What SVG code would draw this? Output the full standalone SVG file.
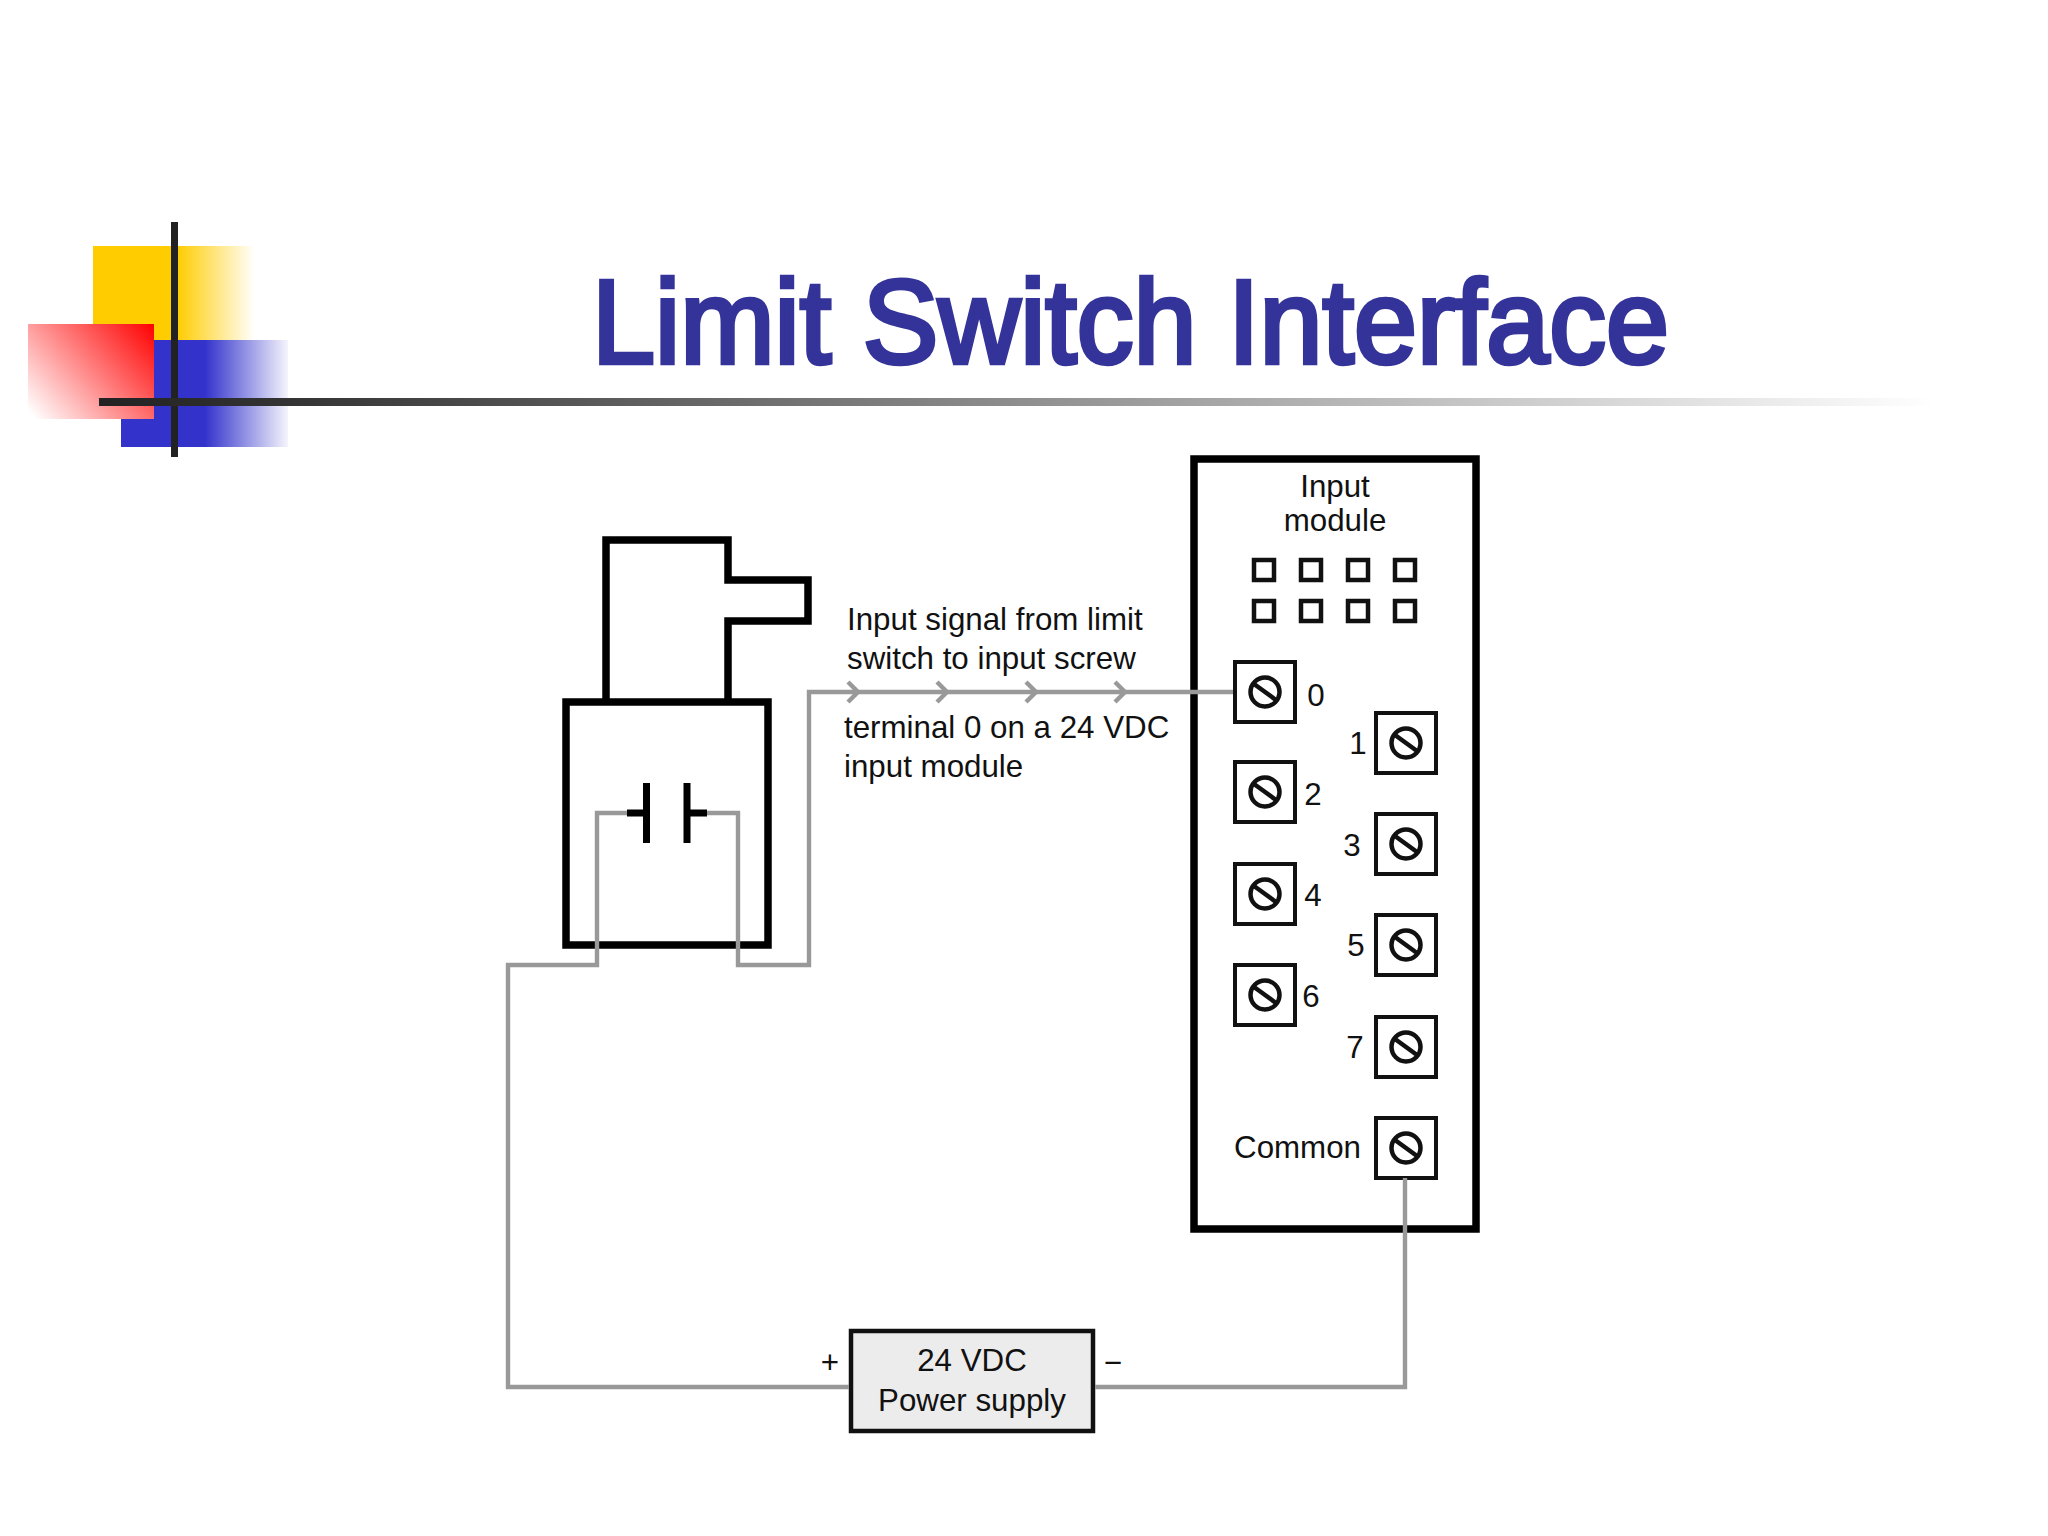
<svg xmlns="http://www.w3.org/2000/svg" xmlns:xlink="http://www.w3.org/1999/xlink" width="2048" height="1536" viewBox="0 0 2048 1536">
<style>
text{font-family:"Liberation Sans",Arial,sans-serif;font-size:31.3px;fill:#111}
.k{fill:none;stroke:#000;stroke-width:7.5;stroke-linejoin:miter}
.w{fill:none;stroke:#999;stroke-width:4.4}
.led{fill:#fff;stroke:#111;stroke-width:4.5}
.box{fill:#fff;stroke:#111;stroke-width:4}
.disc{fill:none;stroke:#111;stroke-width:4.5}
.m{text-anchor:middle}
</style>
<defs>
<linearGradient id="gy" gradientUnits="userSpaceOnUse" x1="177" y1="0" x2="255" y2="0"><stop offset="0" stop-color="#fc0"/><stop offset="1" stop-color="#fc0" stop-opacity="0"/></linearGradient>
<linearGradient id="gb" gradientUnits="userSpaceOnUse" x1="205" y1="0" x2="288" y2="0"><stop offset="0" stop-color="#33c"/><stop offset="1" stop-color="#33c" stop-opacity="0.05"/></linearGradient>
<linearGradient id="gr" gradientUnits="userSpaceOnUse" x1="154" y1="324" x2="40" y2="425"><stop offset="0" stop-color="#f00"/><stop offset="1" stop-color="#f00" stop-opacity="0"/></linearGradient>
<linearGradient id="gl" gradientUnits="userSpaceOnUse" x1="99" y1="0" x2="1935" y2="0"><stop offset="0" stop-color="#222"/><stop offset="0.1" stop-color="#333"/><stop offset="1" stop-color="#fff"/></linearGradient>
<g id="term"><rect class="box" x="-30" y="-30" width="60" height="60"/><circle class="disc" r="14.5"/><line class="disc" x1="-11" y1="-8" x2="11" y2="8"/></g>
<path id="chev" class="w" d="M-5,-10 L5,0 L-5,10"/>
</defs>
<rect width="2048" height="1536" fill="#fff"/>
<g id="logo">
<rect x="93" y="246" width="84" height="94" fill="#fc0"/>
<rect x="177" y="246" width="79" height="94" fill="url(#gy)"/>
<rect x="121" y="340" width="84" height="107" fill="#33c"/>
<rect x="205" y="340" width="83" height="107" fill="url(#gb)"/>
<rect x="28" y="324" width="126" height="95" fill="#fff"/>
<rect x="28" y="324" width="126" height="95" fill="url(#gr)"/>
<rect x="171" y="222" width="7" height="235" fill="#222"/>
<rect x="99" y="398" width="1836" height="8" fill="url(#gl)"/>
</g>
<text id="title" x="592" y="363" textLength="1077" lengthAdjust="spacingAndGlyphs" style="font-size:118px;fill:#333399;stroke:#333399;stroke-width:4.500">Limit Switch Interface</text>
<g id="limit-switch">
<path class="k" d="M606,702 V540 H728 V580 H808 V621 H728 V702"/>
<rect class="k" x="566" y="702" width="202" height="243"/>
<path d="M646.500,783 V843 M687,783 V843 M627,813 H646 M687,813 H707" fill="none" stroke="#000" stroke-width="7"/>
</g>
<g id="input-module">
<rect class="k" x="1194" y="459" width="282" height="770"/>
<text x="1335" y="497" class="m">Input</text>
<text x="1335" y="531" class="m">module</text>
<rect class="led" x="1254" y="560" width="20" height="20"/><rect class="led" x="1301" y="560" width="20" height="20"/><rect class="led" x="1348" y="560" width="20" height="20"/><rect class="led" x="1395" y="560" width="20" height="20"/>
<rect class="led" x="1254" y="601" width="20" height="20"/><rect class="led" x="1301" y="601" width="20" height="20"/><rect class="led" x="1348" y="601" width="20" height="20"/><rect class="led" x="1395" y="601" width="20" height="20"/>
<g id="terminal-0"><use xlink:href="#term" href="#term" x="1265" y="692"/><text x="1316" y="706" class="m">0</text></g>
<g id="terminal-2"><use xlink:href="#term" href="#term" x="1265" y="792"/><text x="1313" y="805" class="m">2</text></g>
<g id="terminal-4"><use xlink:href="#term" href="#term" x="1265" y="894"/><text x="1313" y="906" class="m">4</text></g>
<g id="terminal-6"><use xlink:href="#term" href="#term" x="1265" y="995"/><text x="1311" y="1007" class="m">6</text></g>
<g id="terminal-1"><use xlink:href="#term" href="#term" x="1406" y="743"/><text x="1358" y="754" class="m">1</text></g>
<g id="terminal-3"><use xlink:href="#term" href="#term" x="1406" y="844"/><text x="1352" y="856" class="m">3</text></g>
<g id="terminal-5"><use xlink:href="#term" href="#term" x="1406" y="945"/><text x="1356" y="956" class="m">5</text></g>
<g id="terminal-7"><use xlink:href="#term" href="#term" x="1406" y="1047"/><text x="1355" y="1058" class="m">7</text></g>
<g id="terminal-common"><use xlink:href="#term" href="#term" x="1406" y="1148"/><text x="1361" y="1158" text-anchor="end">Common</text></g>
</g>
<g id="power-supply">
<rect x="851" y="1331" width="242" height="100" fill="#ececec" stroke="#111" stroke-width="4.500"/>
<text x="972" y="1371" class="m">24 VDC</text>
<text x="972" y="1411" class="m">Power supply</text>
<text x="830" y="1373" class="m">+</text>
<text x="1113" y="1373" class="m">−</text>
</g>
<g id="connectors">
<path class="w" d="M627,813 H597 V965 H508 V1387 H849"/>
<path class="w" d="M707,813 H738 V965 H809 V692 H1233"/>
<path class="w" d="M1095,1387 H1405 V1178"/>
<use xlink:href="#chev" href="#chev" x="853" y="692"/>
<use xlink:href="#chev" href="#chev" x="942" y="692"/>
<use xlink:href="#chev" href="#chev" x="1031" y="692"/>
<use xlink:href="#chev" href="#chev" x="1120" y="692"/>
</g>
<g id="signal-label">
<text x="847" y="630">Input signal from limit</text>
<text x="847" y="669">switch to input screw</text>
<text x="844" y="738">terminal 0 on a 24 VDC</text>
<text x="844" y="777">input module</text>
</g>
</svg>
